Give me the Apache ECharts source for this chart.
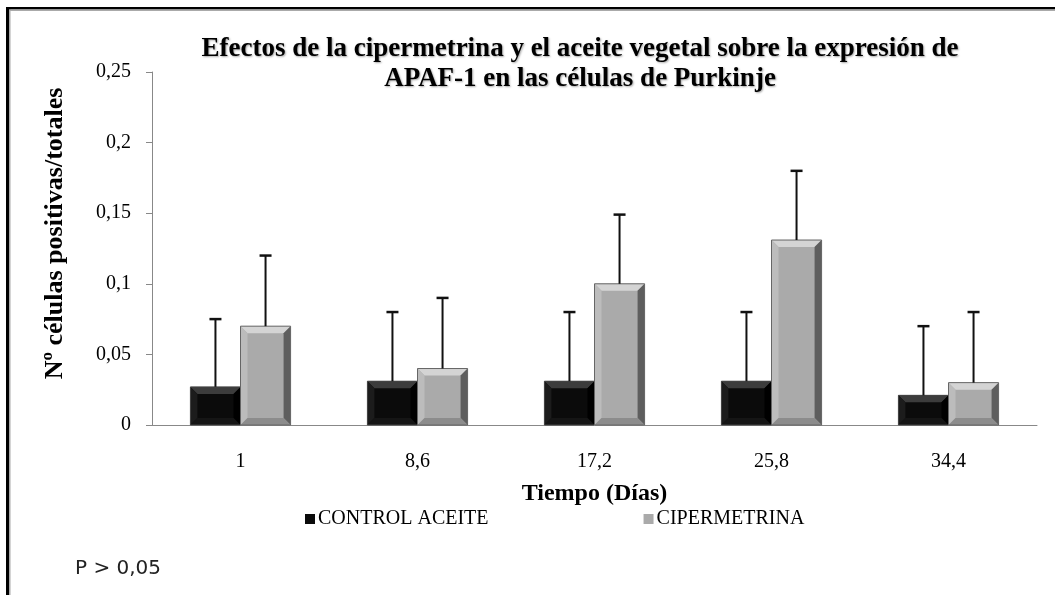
<!DOCTYPE html>
<html>
<head>
<meta charset="utf-8">
<script src="https://cdn.jsdelivr.net/npm/echarts@6/dist/echarts.min.js"></script>
<style>html,body{margin:0;padding:0;background:#fff;}#c{width:1055px;height:595px;}</style>
</head>
<body>
<div id="c"></div>
<script>
var categories = ['1', '8,6', '17,2', '25,8', '34,4'];
var controlValues = [0.027, 0.031, 0.031, 0.031, 0.021];
var controlErrTop = [0.075, 0.08, 0.08, 0.08, 0.07];
var ciperValues = [0.07, 0.04, 0.1, 0.131, 0.03];
var ciperErrTop = [0.12, 0.09, 0.149, 0.18, 0.08];
var yTicks = ['0', '0,05', '0,1', '0,15', '0,2', '0,25'];

var chart = echarts.init(document.getElementById('c'));
var serif = '"Liberation Serif", "Times New Roman", serif';

var palettes = [
  {base: '#0b0b0b', top: '#3c3c3c', left: '#1c1c1c', right: '#000000', bottom: '#151515', edge: '#444'},
  {base: '#aaaaaa', top: '#d4d4d4', left: '#bcbcbc', right: '#5e5e5e', bottom: '#8c8c8c', edge: '#666'}
];

function makeRender(side) {
  return function (params, api) {
    var i = api.value(0);
    var v = api.value(1);
    var e = api.value(2);
    var c0 = api.coord([i, 0]);
    var c1 = api.coord([i, v]);
    var ce = api.coord([i, e]);
    var band = api.size([1, 0])[0];
    var bw = band * 0.283;
    var x0 = side === 0 ? c0[0] - bw : c0[0];
    var x1 = x0 + bw;
    var yb = c0[1], yt = c1[1];
    var h = yb - yt;
    var b = Math.min(7, h / 2.2, bw / 4);
    var p = palettes[side];
    var cx = (x0 + x1) / 2;
    var children = [
      {type: 'rect', shape: {x: x0, y: yt, width: bw, height: h}, style: {fill: p.base}},
      {type: 'polygon', shape: {points: [[x0, yt], [x1, yt], [x1 - b, yt + b], [x0 + b, yt + b]]}, style: {fill: p.top}},
      {type: 'polygon', shape: {points: [[x0, yt], [x0 + b, yt + b], [x0 + b, yb - b], [x0, yb]]}, style: {fill: p.left}},
      {type: 'polygon', shape: {points: [[x1, yt], [x1, yb], [x1 - b, yb - b], [x1 - b, yt + b]]}, style: {fill: p.right}},
      {type: 'polygon', shape: {points: [[x0, yb], [x0 + b, yb - b], [x1 - b, yb - b], [x1, yb]]}, style: {fill: p.bottom}},
      {type: 'rect', shape: {x: x0, y: yt, width: bw, height: h}, style: {fill: null, stroke: p.edge, lineWidth: 1}},
      {type: 'line', shape: {x1: cx, y1: yt, x2: cx, y2: ce[1]}, style: {stroke: '#111', lineWidth: 2}},
      {type: 'line', shape: {x1: cx - 6, y1: ce[1], x2: cx + 6, y2: ce[1]}, style: {stroke: '#111', lineWidth: 2.5}}
    ];
    return {type: 'group', children: children};
  };
}

function toData(values, errs) {
  return values.map(function (v, i) { return [i, v, errs[i]]; });
}

chart.setOption({
  animation: false,
  backgroundColor: '#fff',
  title: {
    text: 'Efectos de la cipermetrina y el aceite vegetal sobre la expresión de\nAPAF-1 en las células de Purkinje',
    left: 575, top: 29, textAlign: 'center',
    textStyle: {fontFamily: serif, fontWeight: 'bold', fontSize: 27, lineHeight: 30, color: '#000',
      textShadowColor: 'rgba(0,0,0,0.35)', textShadowBlur: 2, textShadowOffsetX: 1, textShadowOffsetY: 1}
  },
  legend: {
    data: [
      {name: 'CONTROL ACEITE', icon: 'rect', itemStyle: {color: '#0b0b0b'}},
      {name: 'CIPERMETRINA', icon: 'rect', itemStyle: {color: '#aaaaaa'}}
    ],
    left: 300, top: 504,
    itemWidth: 10, itemHeight: 10, itemGap: 155,
    textStyle: {fontFamily: serif, fontSize: 20, color: '#000', padding: [2, 0, 0, -2]}
  },
  grid: {left: 152, right: 18, top: 72, bottom: 170, containLabel: false},
  xAxis: {
    type: 'category', data: categories,
    name: 'Tiempo (Días)', nameLocation: 'middle', nameGap: 57,
    nameTextStyle: {fontFamily: serif, fontWeight: 'bold', fontSize: 24, color: '#000'},
    axisLine: {lineStyle: {color: '#888', width: 1}},
    axisTick: {show: false},
    axisLabel: {fontFamily: serif, fontSize: 20, color: '#000', margin: 27}
  },
  yAxis: {
    type: 'value', min: 0, max: 0.25, interval: 0.05,
    name: 'Nº células positivas/totales', nameLocation: 'middle', nameGap: 84,
    nameTextStyle: {fontFamily: serif, fontWeight: 'bold', fontSize: 26, color: '#000', padding: [0, 0, 0, 30]},
    axisLine: {show: true, lineStyle: {color: '#888', width: 1}},
    axisTick: {show: true, inside: false, length: 6, lineStyle: {color: '#888'}},
    splitLine: {show: false},
    axisLabel: {fontFamily: serif, fontSize: 20, color: '#000', margin: 21,
      formatter: function (v) { return yTicks[Math.round(v / 0.05)]; }}
  },
  series: [
    {name: 'CONTROL ACEITE', type: 'custom', itemStyle: {color: '#0b0b0b'},
      renderItem: makeRender(0), encode: {x: 0, y: 1}, data: toData(controlValues, controlErrTop)},
    {name: 'CIPERMETRINA', type: 'custom', itemStyle: {color: '#aaaaaa'},
      renderItem: makeRender(1), encode: {x: 0, y: 1}, data: toData(ciperValues, ciperErrTop)}
  ],
  graphic: [
    {type: 'rect', shape: {x: 6, y: 7, width: 3, height: 600}, style: {fill: '#000'}},
    {type: 'rect', shape: {x: 9, y: 9, width: 1.5, height: 600}, style: {fill: '#aaa'}},
    {type: 'rect', shape: {x: 6, y: 7, width: 1060, height: 2.5}, style: {fill: '#000'}},
    {type: 'rect', shape: {x: 9, y: 9.5, width: 1060, height: 1.5}, style: {fill: '#aaa'}},
    {type: 'text', left: 75, top: 559, style: {text: 'P > 0,05', fontFamily: '"DejaVu Sans", sans-serif', fontSize: 20, fill: '#222'}}
  ]
});
</script>
</body>
</html>
